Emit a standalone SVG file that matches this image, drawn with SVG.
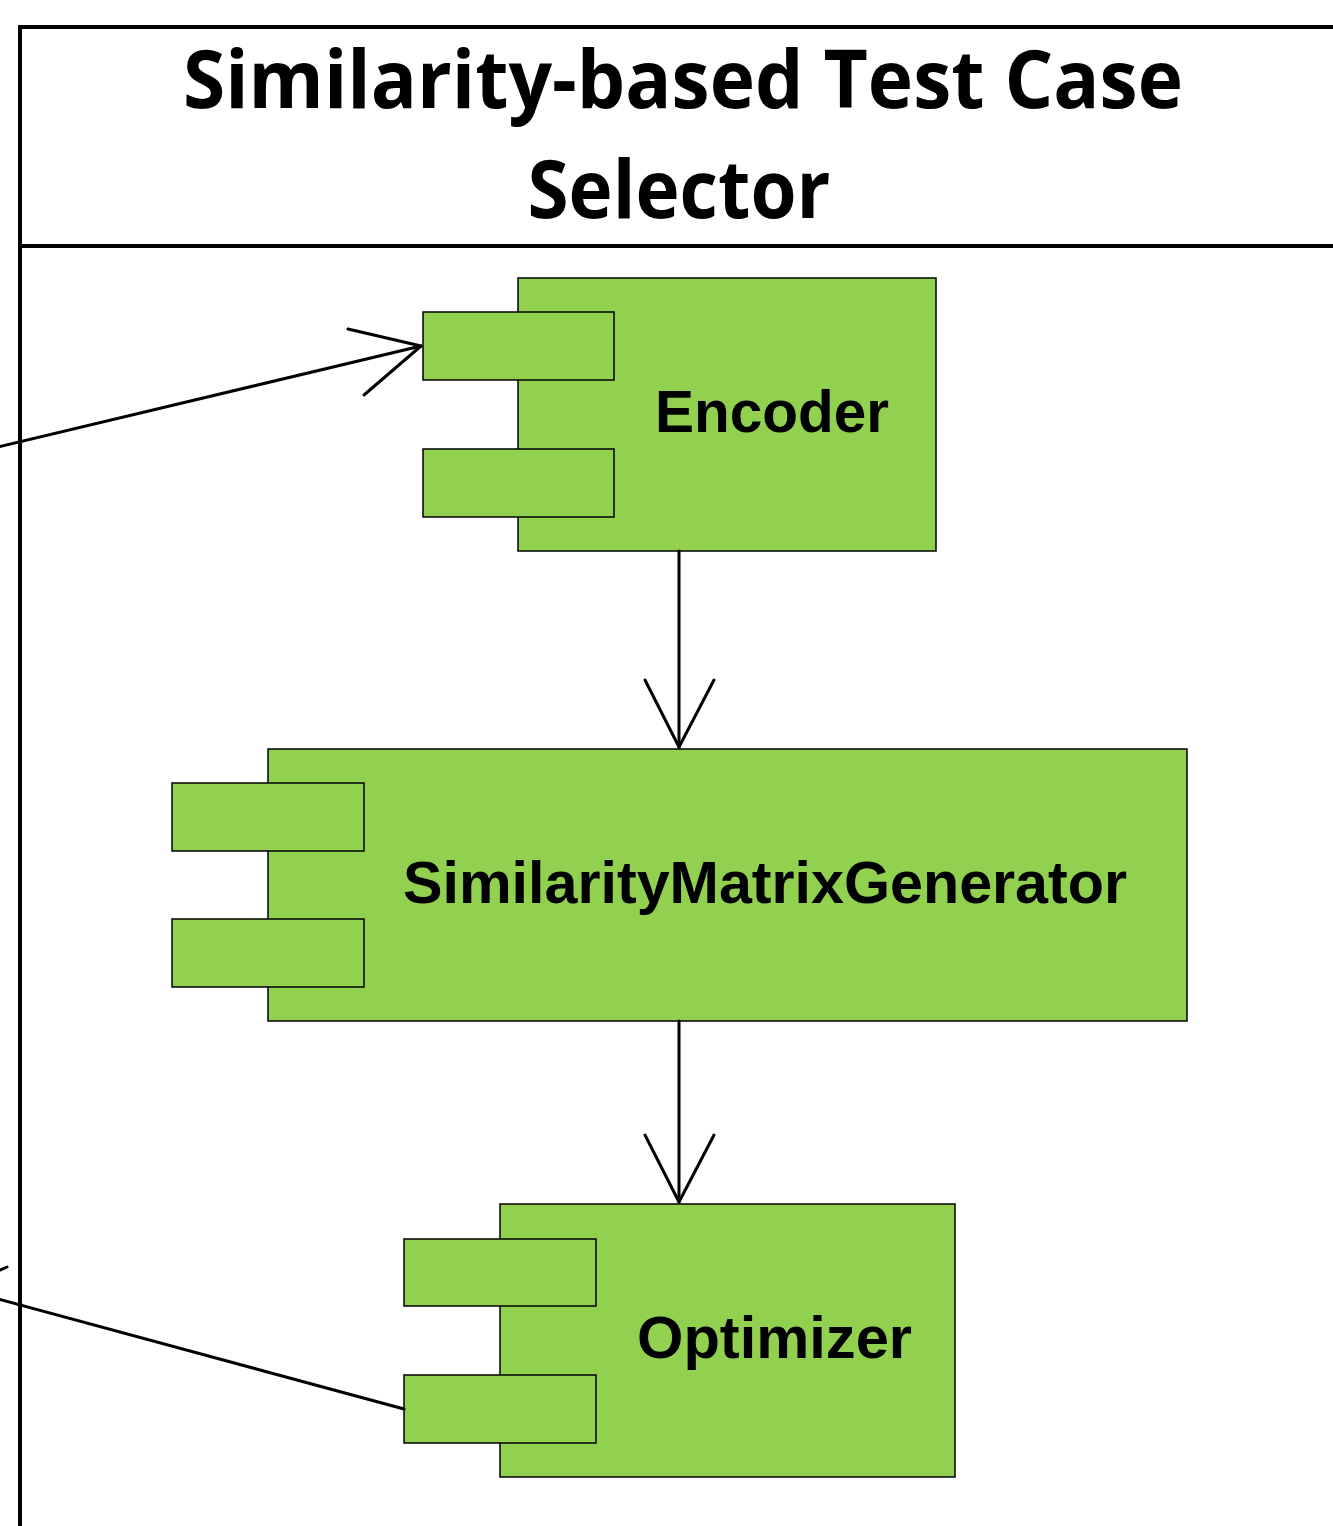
<svg xmlns="http://www.w3.org/2000/svg" width="1333" height="1526" viewBox="0 0 1333 1526">
<style>
.frame{fill:none;stroke:#000;stroke-width:4}
.comp{fill:#92D050;stroke:#000;stroke-width:1.5}
.lbl{font-family:"Liberation Sans",Arial,sans-serif;font-weight:bold;font-size:58.5px;fill:#000;text-anchor:middle}
.title{font-family:"Open Sans","Noto Sans",sans-serif;font-weight:bold;font-size:80px;fill:#000;text-anchor:middle}
.conn{fill:none;stroke:#000;stroke-width:3;stroke-linecap:round;stroke-linejoin:round}
</style>
<rect width="1333" height="1526" fill="#fff"/>
<g id="frame">
<path class="frame" d="M1335 27 H20 V1530"/>
<path class="frame" d="M20 246 H1335" stroke-width="3.5"/>
<text class="title" x="683" y="108" textLength="1000" lengthAdjust="spacingAndGlyphs">Similarity-based Test Case</text>
<text class="title" x="679" y="218" textLength="303" lengthAdjust="spacingAndGlyphs">Selector</text>
</g>
<g id="encoder">
<rect class="comp" x="518" y="278" width="418" height="273"/>
<rect class="comp" x="423" y="312" width="191" height="68"/>
<rect class="comp" x="423" y="449" width="191" height="68"/>
<text class="lbl" x="772" y="432" textLength="234" lengthAdjust="spacingAndGlyphs">Encoder</text>
</g>
<g id="similarity-matrix-generator">
<rect class="comp" x="268" y="749" width="919" height="272"/>
<rect class="comp" x="172" y="783" width="192" height="68"/>
<rect class="comp" x="172" y="919" width="192" height="68"/>
<text class="lbl" x="765" y="903" textLength="724" lengthAdjust="spacingAndGlyphs">SimilarityMatrixGenerator</text>
</g>
<g id="optimizer">
<rect class="comp" x="500" y="1204" width="455" height="273"/>
<rect class="comp" x="404" y="1239" width="192" height="67"/>
<rect class="comp" x="404" y="1375" width="192" height="68"/>
<text class="lbl" x="774.5" y="1358" textLength="275" lengthAdjust="spacingAndGlyphs">Optimizer</text>
</g>
<g id="connectors">
<path class="conn" d="M679 551 V747"/>
<path class="conn" d="M645 680 L679 747 L714 680"/>
<path class="conn" d="M679 1021 V1202"/>
<path class="conn" d="M645 1135 L679 1202 L714 1135"/>
<path class="conn" d="M-2 447 L421 346"/>
<path class="conn" d="M348 329 L421 346 L364 395"/>
<path class="conn" d="M-2 1299 L404 1409"/>
<path class="conn" d="M-2 1271 L7 1267"/>
</g>
</svg>
